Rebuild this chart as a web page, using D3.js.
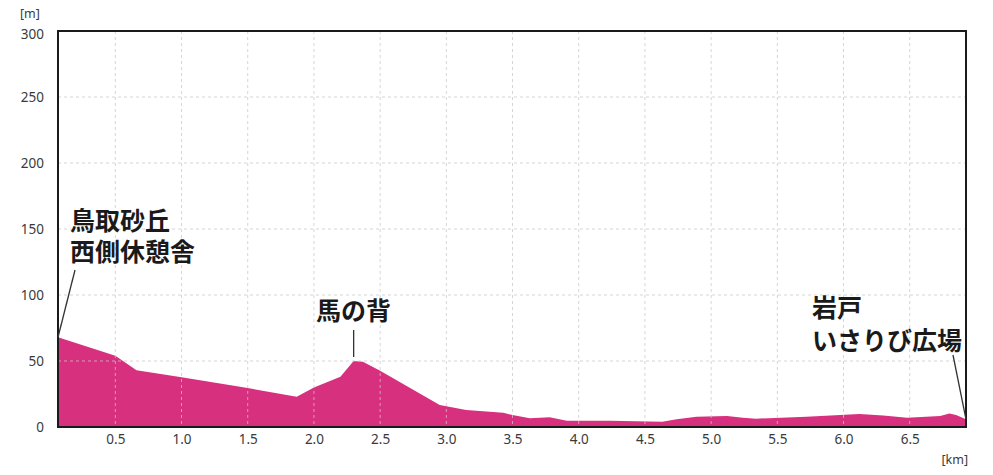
<!DOCTYPE html>
<html>
<head>
  <meta charset="utf-8">
  <title>鳥取砂丘 西側休憩舎 - 岩戸いさりび広場 標高</title>
  <style>
    body {
      margin: 0;
      padding: 0;
      background: white;
    }
    .tick-label {
      font-family: "Noto Sans", "Open Sans", sans-serif;
      font-size: 13.5px;
      fill: #3a3a3a;
    }
    .unit {
      font-family: "Noto Sans", "Open Sans", sans-serif;
      font-size: 12.5px;
      fill: #3a3a3a;
    }
    .grid line {
      stroke: #c8c8c8;
      stroke-width: 1;
      stroke-dasharray: 3, 3;
      opacity: 0.75;
    }
    .profile {
      fill: #d6307f;
    }
    .frame {
      fill: none;
      stroke: #1a1a1a;
      stroke-width: 2;
    }
    .place {
      font-family: "Noto Sans CJK JP", sans-serif;
      font-weight: bold;
      font-size: 25px;
      fill: #1a1a1a;
    }
    .leader {
      stroke: #333;
      stroke-width: 1.3;
    }
  </style>
</head>
<body>
  <div id="chart"></div>

  <script src="https://d3js.org/d3.v7.min.js"></script>
  <script>

  // ####### ELEVATION PROFILE (distance in km, elevation in m) #######
  var distKm = [0.067, 0.5, 0.66, 1.0, 1.5, 1.87, 2.0, 2.2, 2.3, 2.37, 2.5, 2.95, 3.15,
                3.43, 3.5, 3.63, 3.78, 3.91, 4.24, 4.63, 4.74, 4.89, 5.12, 5.24, 5.34,
                5.72, 6.12, 6.30, 6.48, 6.73, 6.80, 6.85, 6.925]
  var elevM  = [68, 54, 43, 37.6, 29.5, 23, 30, 38, 50, 49.5, 42.6, 16.7, 12.9,
                10.8, 9, 6.6, 7.3, 4.8, 4.8, 4, 5.8, 7.8, 8.3, 7, 6.3,
                7.8, 9.8, 8.8, 7, 8.3, 10.3, 9, 5.8]

  // ####### AXIS TICKS #######
  var xTicks = [0.5, 1.0, 1.5, 2.0, 2.5, 3.0, 3.5, 4.0, 4.5, 5.0, 5.5, 6.0, 6.5]
  var yTicks = [0, 50, 100, 150, 200, 250, 300]

  // ####### PLACE NAMES #######
  var startName = ["鳥取砂丘", "西側休憩舎"]
  var midName   = ["馬の背"]
  var endName   = ["岩戸", "いさりび広場"]

  var width = 993,
      height = 475

  var svg = d3.select("#chart")
      .append("svg")
      .attr("width", width)
      .attr("height", height)

  // ####### SCALES #######
  var x = d3.scaleLinear().domain([0.067, 6.925]).range([58, 966])
  var y = d3.scaleLinear().domain([0, 300]).range([427, 31])

  // ####### AREA #######
  var data = distKm.map(function (d, i) { return { d: d, e: elevM[i] } })

  var area = d3.area()
      .x(function (p) { return x(p.d) })
      .y0(y(0))
      .y1(function (p) { return y(p.e) })

  svg.append("path")
      .datum(data)
      .attr("class", "profile")
      .attr("d", area)

  // ####### DASHED GRID (drawn on top, shows faintly over the fill) #######
  var grid = svg.append("g").attr("class", "grid")

  grid.selectAll(".vx")
      .data(xTicks).enter()
      .append("line")
      .attr("x1", function (d) { return x(d) })
      .attr("x2", function (d) { return x(d) })
      .attr("y1", y(300))
      .attr("y2", y(0))

  grid.selectAll(".hy")
      .data(yTicks.filter(function (d) { return d > 0 && d < 300 })).enter()
      .append("line")
      .attr("x1", x.range()[0])
      .attr("x2", x.range()[1])
      .attr("y1", function (d) { return y(d) })
      .attr("y2", function (d) { return y(d) })

  // ####### FRAME #######
  svg.append("rect")
      .attr("class", "frame")
      .attr("x", x.range()[0])
      .attr("y", y(300))
      .attr("width", x.range()[1] - x.range()[0])
      .attr("height", y(0) - y(300))

  // ####### AXES (labels only) #######
  var yAxis = svg.append("g")
      .attr("transform", "translate(44,0)")
      .call(d3.axisLeft(y).tickValues(yTicks).tickSize(0).tickPadding(0))
  yAxis.select(".domain").remove()
  yAxis.selectAll("text").attr("class", "tick-label").attr("font-family", null).attr("font-size", null)
  // top label sits a little lower, like the reference
  yAxis.selectAll(".tick").filter(function (d) { return d === 300 })
      .select("text").attr("y", 3)

  var xAxis = svg.append("g")
      .attr("transform", "translate(0,434)")
      .call(d3.axisBottom(x).tickValues(xTicks).tickFormat(d3.format(".1f")).tickSize(0).tickPadding(0))
  xAxis.select(".domain").remove()
  xAxis.selectAll("text").attr("class", "tick-label").attr("font-family", null).attr("font-size", null)

  // ####### UNITS #######
  svg.append("text").attr("class", "unit")
      .attr("x", 20).attr("y", 18).text("[m]")
  svg.append("text").attr("class", "unit")
      .attr("x", 968).attr("y", 464).attr("text-anchor", "end").text("[km]")

  // ####### PLACE LABELS #######
  function placeLabel(lines, px, py, gap) {
    var t = svg.append("text").attr("class", "place")
    t.selectAll("tspan")
        .data(lines).enter()
        .append("tspan")
        .attr("x", px)
        .attr("y", function (d, i) { return py + i * gap })
        .text(function (d) { return d })
  }

  placeLabel(startName, 70, 230, 31)
  placeLabel(midName, 316, 320, 0)
  placeLabel(endName, 812, 317, 33)

  // ####### LEADER LINES #######
  svg.append("line").attr("class", "leader")
      .attr("x1", 75).attr("y1", 270)
      .attr("x2", x(distKm[0])).attr("y2", y(elevM[0]))
  svg.append("line").attr("class", "leader")
      .attr("x1", x(2.3)).attr("y1", 330)
      .attr("x2", x(2.3)).attr("y2", y(elevM[8]) - 4)
  svg.append("line").attr("class", "leader")
      .attr("x1", 953).attr("y1", 355)
      .attr("x2", x(distKm[distKm.length - 1])).attr("y2", y(elevM[elevM.length - 1]))

  </script>
</body>
</html>
